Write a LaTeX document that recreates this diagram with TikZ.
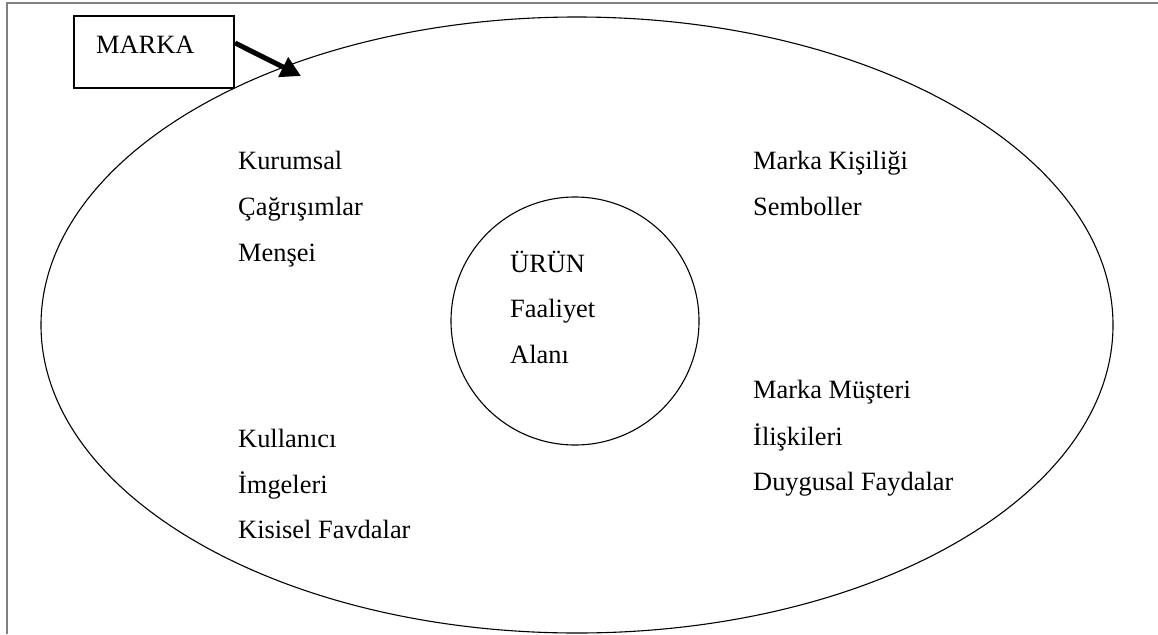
\documentclass[tikz,border=0pt]{standalone}
\usepackage{fontspec}
\setmainfont{Liberation Serif}
\usetikzlibrary{arrows.meta,shapes.geometric}
\begin{document}
\begin{tikzpicture}[x=1pt,y=-1pt,
  lbl/.style={anchor=base west, inner sep=0pt, font=\fontsize{26.4}{30}\selectfont},
  frameline/.style={draw=black!50, line width=1.5pt},
  outline/.style={draw=black, line width=1.1pt, ellipse, inner sep=0pt},
  boxstyle/.style={draw=black, line width=2.2pt, inner sep=0pt, minimum width=160pt, minimum height=72pt},
  bigarrow/.style={line width=5pt, -{Triangle[length=20pt,width=21pt]}}]
\useasboundingbox (0,0) rectangle (1158,634);
\coordinate (fbl) at (7,634);
\coordinate (ftl) at (7,3);
\coordinate (ftr) at (1158,3);
\draw[frameline] (fbl) -- (ftl) -- (ftr);
% big ellipse
\node[outline, minimum width=1072pt, minimum height=616pt] (brand) at (577,325) {};
% inner circle
\node[outline, minimum width=248pt, minimum height=248pt] (product) at (575,321) {};
% MARKA box
\node[boxstyle] (marka) at (154,52) {};
\node[lbl] (markatxt) at (96,53) {MARKA};
\coordinate (tip) at (301,76);
\draw[bigarrow] ([yshift=9pt]marka.east) -- (tip);
% texts
\node[lbl] (t1) at (238,169) {Kurumsal};
\node[lbl] (t2) at (238,215) {Çağrışımlar};
\node[lbl] (t3) at (238,261) {Menşei};
\node[lbl] (t4) at (753,169) {Marka Kişiliği};
\node[lbl] (t5) at (753,215) {Semboller};
\node[lbl] (t6) at (510,272) {ÜRÜN};
\node[lbl] (t7) at (510,317) {Faaliyet};
\node[lbl] (t8) at (510,363) {Alanı};
\node[lbl] (t9) at (753,398) {Marka Müşteri};
\node[lbl] (t10) at (753,445) {İlişkileri};
\node[lbl] (t11) at (753,490) {Duygusal Faydalar};
\node[lbl] (t12) at (238,447) {Kullanıcı};
\node[lbl] (t13) at (238,493) {İmgeleri};
\node[lbl] (t14) at (238,538) {Kisisel Favdalar};
\end{tikzpicture}
\end{document}
